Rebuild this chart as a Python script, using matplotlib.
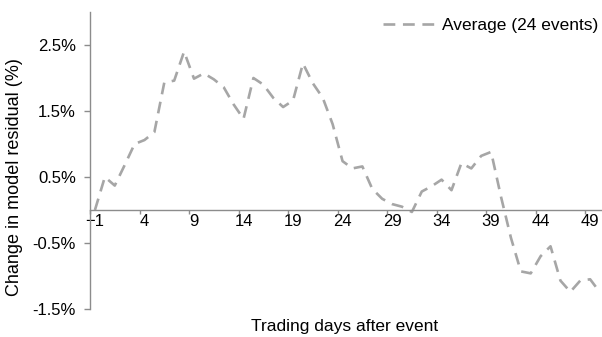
import matplotlib
matplotlib.use("Agg")
import matplotlib.pyplot as plt
import numpy as np
from matplotlib.ticker import FuncFormatter

# trading day relative to event, and the average change in residual (%)
days = list(range(-1, 51))
avg_change = [0.0, 0.50, 0.37, 0.68, 1.00, 1.06, 1.18, 1.93, 1.96, 2.40,
              1.99, 2.07, 1.98, 1.86, 1.60, 1.38, 2.00, 1.90, 1.70, 1.56,
              1.66, 2.22, 1.92, 1.70, 1.30, 0.74, 0.63, 0.66, 0.32, 0.17,
              0.09, 0.05, -0.03, 0.28, 0.36, 0.46, 0.30, 0.71, 0.63, 0.82,
              0.88, 0.20, -0.42, -0.93, -0.96, -0.70, -0.55, -1.07, -1.24, -1.07,
              -1.05, -1.25]
x_labels = list(range(-1, 50, 5))
y_ticks = [2.5, 1.5, 0.5, -0.5, -1.5]
series_name = "Average (24 events)"

plt.rcParams['font.family'] = ['Liberation Sans', 'DejaVu Sans']
plt.rcParams['lines.scale_dashes'] = False

axis_grey = '#8c8c8c'
line_grey = '#a6a6a6'

fig = plt.figure(figsize=(6.02, 3.37), dpi=100)
# axes runs a little past the right edge, like the original
ax = fig.add_axes([90/602, 1 - 309/337, 515/602, 297/337])

ax.plot(days, avg_change, color=line_grey, lw=1.9, dashes=(8.5, 5.5),
        label=series_name)

ax.set_xlim(-1.5, 50.5)
ax.set_ylim(-1.5, 3.0)

for s in ['top', 'right']:
    ax.spines[s].set_visible(False)
ax.spines['bottom'].set_position(('data', 0))
for s in ['left', 'bottom']:
    ax.spines[s].set_color(axis_grey)
    ax.spines[s].set_linewidth(1.0)

ax.set_yticks(y_ticks)
ax.yaxis.set_major_formatter(FuncFormatter(lambda v, p: '%.1f%%' % v))
ax.tick_params(axis='y', direction='out', length=4, width=1.0,
               color=axis_grey, labelsize=12, pad=6)

ax.set_xticks(x_labels)
ax.set_xticks(np.arange(-1.5, 50, 5), minor=True)
ax.tick_params(axis='x', which='major', length=0, labelsize=12, pad=3)
ax.tick_params(axis='x', which='minor', direction='out', length=3,
               width=1.0, color=axis_grey)

fig.text(15/602, 1 - 177/337, "Change in model residual (%)", rotation=90,
         ha='center', va='center', fontsize=13)
fig.text(345/602, 1 - 326/337, "Trading days after event",
         ha='center', va='center', fontsize=12.5)

ax.legend(loc='center left', bbox_to_anchor=(383/602, 1 - 25/337),
          bbox_transform=fig.transFigure, frameon=False, borderpad=0,
          borderaxespad=0, handlelength=3.2, handletextpad=0.2,
          fontsize=12.5)

fig.savefig('out.png', dpi=100)
